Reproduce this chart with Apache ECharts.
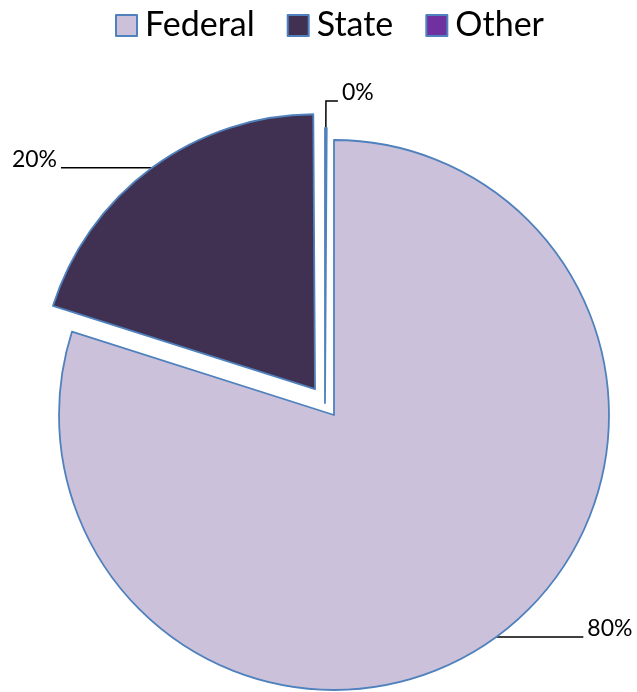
<!DOCTYPE html>
<html>
<head>
<meta charset="utf-8">
<script src="https://cdn.jsdelivr.net/npm/echarts@6/dist/echarts.min.js"></script>
<style>
  html, body { margin: 0; padding: 0; background: #ffffff; }
  #chart { width: 637px; height: 692px; }
</style>
</head>
<body>
<div id="chart"></div>
<script>
// Funding sources, share of total (%)
const categories = ['Federal', 'State', 'Other'];
const shares = [79.9, 20.0, 0.1];
const colors = ['#ccc1da', '#403152', '#7030a0'];
const explodedName = 'State';

const borderColor = '#4f81bd';
const fontFamily = 'Lato, "Open Sans", sans-serif';

// Leader-line lengths for each slice label
const leader = {
  Federal: { length: 0, length2: 87 },
  State: { length: 0, length2: 91 },
  Other: { length: 27, length2: 12 }
};

// Percent text sits just above the end of its leader line
const labelStyle = {
  show: true,
  position: 'outside',
  formatter: p => p.percent + '%\n ',
  color: '#000',
  fontFamily: fontFamily,
  fontSize: 23,
  lineHeight: 16,
  distanceToLabelLine: 4,
  bleedMargin: 0
};
const lineStyle = { color: '#000', width: 1.5 };
const hidden = { color: 'transparent', borderWidth: 0 };

// Main pie: Federal and State (State pulled out)
const mainData = categories.map((name, i) => {
  const isOther = name === 'Other';
  return {
    name: name,
    value: shares[i],
    selected: name === explodedName,
    itemStyle: isOther ? hidden : { color: colors[i], borderColor: borderColor, borderWidth: 1.8 },
    label: isOther ? { show: false } : labelStyle,
    labelLine: isOther ? { show: false } : { show: true, length: leader[name].length, length2: leader[name].length2, lineStyle: lineStyle }
  };
});

// Small "Other" slice, pulled out on its own
const otherOrder = [2, 0, 1];
const otherData = otherOrder.map(i => {
  const name = categories[i];
  const isOther = name === 'Other';
  return {
    name: name,
    value: shares[i],
    itemStyle: isOther ? { color: colors[i], borderColor: borderColor, borderWidth: 1.8 } : hidden,
    label: isOther ? labelStyle : { show: false },
    labelLine: isOther ? { show: true, length: leader[name].length, length2: leader[name].length2, lineStyle: lineStyle } : { show: false }
  };
});

const chart = echarts.init(document.getElementById('chart'), null, { renderer: 'canvas' });
chart.setOption({
  animation: false,
  backgroundColor: '#ffffff',
  legend: {
    top: 3,
    left: 110,
    itemWidth: 21,
    itemHeight: 21,
    itemGap: 32,
    icon: 'rect',
    selectedMode: false,
    textStyle: { fontFamily: fontFamily, fontSize: 34, color: '#000', lineHeight: 35, padding: [0, 0, 0, 3] },
    data: categories.map((name, i) => ({
      name: name,
      itemStyle: { color: colors[i], borderColor: borderColor, borderWidth: 2 }
    }))
  },
  series: [
    {
      name: 'Funding',
      type: 'pie',
      center: [334, 415],
      radius: 275,
      startAngle: 90,
      clockwise: true,
      percentPrecision: 0,
      selectedMode: 'single',
      selectedOffset: 32,
      avoidLabelOverlap: false,
      emphasis: { disabled: true },
      data: mainData
    },
    {
      name: 'Funding (other)',
      type: 'pie',
      center: [325, 403],
      radius: 275,
      startAngle: 90,
      clockwise: true,
      percentPrecision: 0,
      silent: true,
      legendHoverLink: false,
      avoidLabelOverlap: false,
      emphasis: { disabled: true },
      data: otherData
    }
  ]
});
</script>
</body>
</html>
